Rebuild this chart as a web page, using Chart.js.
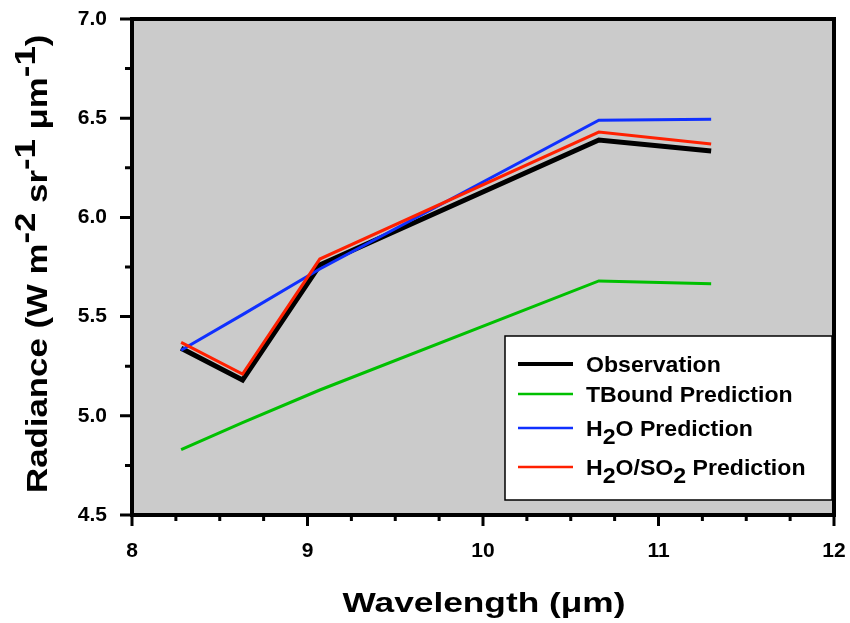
<!DOCTYPE html>
<html>
<head>
<meta charset="utf-8">
<script src="https://cdn.jsdelivr.net/npm/chart.js@4.4.1/dist/chart.umd.min.js"></script>
<style>
  body { margin: 0; background: #fff; }
  #radChart { display: block; }
</style>
</head>
<body>
<canvas id="radChart" width="850" height="623"></canvas>
<script>
// wavelengths (um) of the five channels
const wavelengths = [8.28, 8.63, 9.07, 10.66, 11.30];
const observation = [5.34, 5.18, 5.76, 6.39, 6.335];
const tboundPred = [4.83, 4.965, 5.13, 5.68, 5.665];
const h2oPred = [5.33, 5.51, 5.74, 6.49, 6.495];
const h2oSo2Pred = [5.37, 5.21, 5.79, 6.43, 6.37];

const xTicks = [8, 9, 10, 11, 12];
const yTicks = [4.5, 5.0, 5.5, 6.0, 6.5, 7.0];

const FONT = '"Liberation Sans", Arial, sans-serif';

function pts(ys) {
  return wavelengths.map((x, i) => ({ x: x, y: ys[i] }));
}

// text with sub/superscripts, stretched a bit sideways like the original
function drawRich(ctx, parts, x, y, size, stretch) {
  ctx.save();
  ctx.translate(x, y);
  ctx.scale(stretch, 1);
  ctx.textBaseline = 'alphabetic';
  ctx.textAlign = 'left';
  let cx = 0;
  parts.forEach(p => {
    const s = size * (p.k || 1);
    ctx.font = 'bold ' + s + 'px ' + FONT;
    ctx.fillText(p.t, cx, (p.dy || 0));
    cx += ctx.measureText(p.t).width;
  });
  ctx.restore();
}

function richWidth(ctx, parts, size, stretch) {
  let w = 0;
  parts.forEach(p => {
    ctx.font = 'bold ' + size * (p.k || 1) + 'px ' + FONT;
    w += ctx.measureText(p.t).width;
  });
  return w * stretch;
}

const legendItems = [
  { color: '#000000', width: 4, parts: [{ t: 'Observation' }] },
  { color: '#00c000', width: 2.5, parts: [{ t: 'TBound Prediction' }] },
  { color: '#1030ff', width: 2.5, parts: [{ t: 'H' }, { t: '2', dy: 8 }, { t: 'O Prediction' }] },
  { color: '#ff2000', width: 2.5, parts: [{ t: 'H' }, { t: '2', dy: 8 }, { t: 'O/SO' }, { t: '2', dy: 8 }, { t: ' Prediction' }] }
];

const framePlugin = {
  id: 'frame',
  beforeDraw(chart) {
    const { ctx, chartArea: a } = chart;
    ctx.save();
    ctx.fillStyle = '#cbcbcb';
    ctx.fillRect(a.left, a.top, a.right - a.left, a.bottom - a.top);
    ctx.restore();
  },
  afterDraw(chart) {
    const { ctx, chartArea: a, scales } = chart;
    const xs = scales.x, ys = scales.y;
    ctx.save();
    ctx.strokeStyle = '#000';
    ctx.lineWidth = 4;
    ctx.strokeRect(a.left, a.top, a.right - a.left, a.bottom - a.top);

    // tick marks, major and minor, outward
    ctx.lineWidth = 3;
    ctx.beginPath();
    for (let i = 0; i < yTicks.length; i++) {
      const py = ys.getPixelForValue(yTicks[i]);
      ctx.moveTo(a.left - 12, py); ctx.lineTo(a.left, py);
      if (i < yTicks.length - 1) {
        const pm = ys.getPixelForValue((yTicks[i] + yTicks[i + 1]) / 2);
        ctx.moveTo(a.left - 7, pm); ctx.lineTo(a.left, pm);
      }
    }
    for (let i = 0; i < xTicks.length; i++) {
      const px = xs.getPixelForValue(xTicks[i]);
      ctx.moveTo(px, a.bottom); ctx.lineTo(px, a.bottom + 11);
      if (i < xTicks.length - 1) {
        for (let q = 1; q < 4; q++) {
          const pm = xs.getPixelForValue(xTicks[i] + q * 0.25);
          ctx.moveTo(pm, a.bottom); ctx.lineTo(pm, a.bottom + 6);
        }
      }
    }
    ctx.stroke();

    // axis titles
    ctx.fillStyle = '#000';
    const xTitle = [{ t: 'Wavelength (' }, { t: 'μ' }, { t: 'm)' }];
    const xw = richWidth(ctx, xTitle, 28, 1.26);
    drawRich(ctx, xTitle, 484 - xw / 2, 612, 28, 1.26);

    const yTitle = [
      { t: 'Radiance (W m' }, { t: '-2', dy: -12 },
      { t: ' sr' }, { t: '-1', dy: -12 },
      { t: ' μm' }, { t: '-1', dy: -12 }, { t: ')' }
    ];
    ctx.save();
    ctx.translate(47, 493);
    ctx.rotate(-Math.PI / 2);
    drawRich(ctx, yTitle, 0, 0, 29, 1.2);
    ctx.restore();

    // legend box
    const bx = 505, by = 336, bw = 327, bh = 164;
    ctx.fillStyle = '#fff';
    ctx.fillRect(bx, by, bw, bh);
    ctx.lineWidth = 1.5;
    ctx.strokeStyle = '#000';
    ctx.strokeRect(bx, by, bw, bh);
    const rowY = [364, 394, 428, 467];
    legendItems.forEach((it, i) => {
      ctx.strokeStyle = it.color;
      ctx.lineWidth = it.width;
      ctx.beginPath();
      ctx.moveTo(518, rowY[i]);
      ctx.lineTo(573, rowY[i]);
      ctx.stroke();
      ctx.fillStyle = '#000';
      drawRich(ctx, it.parts, 586, rowY[i] + 8, 22, 1.05);
    });
    ctx.restore();
  }
};

const ctx = document.getElementById('radChart').getContext('2d');
const chart = new Chart(ctx, {
  type: 'line',
  data: {
    datasets: [
      { label: 'Observation', data: pts(observation), borderColor: '#000000', borderWidth: 5, order: 4 },
      { label: 'TBound Prediction', data: pts(tboundPred), borderColor: '#00c000', borderWidth: 3, order: 3 },
      { label: 'H2O Prediction', data: pts(h2oPred), borderColor: '#1030ff', borderWidth: 3, order: 2 },
      { label: 'H2O/SO2 Prediction', data: pts(h2oSo2Pred), borderColor: '#ff2000', borderWidth: 3, order: 1 }
    ]
  },
  options: {
    responsive: false,
    animation: false,
    devicePixelRatio: 1,
    layout: { padding: { left: 0, top: 19, right: 16, bottom: 0 } },
    elements: {
      point: { radius: 0 },
      line: { tension: 0, fill: false, borderJoinStyle: 'miter' }
    },
    plugins: {
      legend: { display: false },
      tooltip: { enabled: false }
    },
    scales: {
      x: {
        type: 'linear',
        min: 8, max: 12,
        afterFit(scale) {
          scale.height = 108;
          scale.paddingLeft = 0;
          scale.paddingRight = 0;
        },
        afterBuildTicks(scale) { scale.ticks = xTicks.map(v => ({ value: v })); },
        grid: { display: false, drawTicks: false },
        border: { display: false },
        ticks: {
          padding: 24,
          color: '#000',
          font: { family: FONT, size: 21, weight: 'bold' },
          maxRotation: 0
        }
      },
      y: {
        type: 'linear',
        min: 4.5, max: 7.0,
        afterFit(scale) {
          scale.width = 132;
          scale.paddingTop = 0;
          scale.paddingBottom = 0;
        },
        afterBuildTicks(scale) { scale.ticks = yTicks.map(v => ({ value: v })); },
        grid: { display: false, drawTicks: false },
        border: { display: false },
        ticks: {
          padding: 25,
          color: '#000',
          font: { family: FONT, size: 21, weight: 'bold' },
          callback: v => v.toFixed(1)
        }
      }
    }
  },
  plugins: [framePlugin]
});
</script>
</body>
</html>
